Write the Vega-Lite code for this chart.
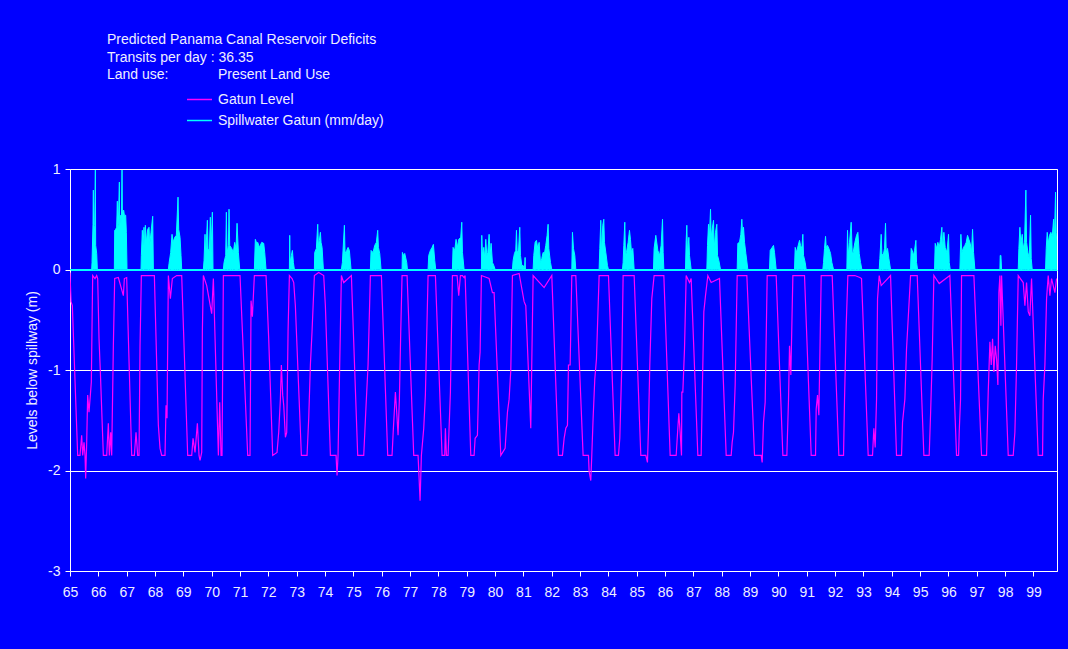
{
"$schema": "https://vega.github.io/schema/vega-lite/v6.json",
"width": 987, "height": 402,
"autosize": "none",
"padding": {"left": 70, "top": 169, "right": 11, "bottom": 78},
"background": "#0000FF",
"title": {
  "text": ["Predicted Panama Canal Reservoir Deficits", "Transits per day :\u00a036.35", "Land use:\u00a0\u00a0\u00a0\u00a0\u00a0\u00a0\u00a0\u00a0\u00a0\u00a0\u00a0\u00a0\u2009Present Land Use"],
  "anchor": "start", "frame": "group", "dx": 37, "offset": 4,
  "font": "Liberation Sans", "fontSize": 14, "fontWeight": "normal", "color": "#EEEEFF", "lineHeight": 17.5
},
"config": {
  "view": {"stroke": "#FFFFFF", "strokeWidth": 1},
  "font": "Liberation Sans",
  "axis": {"labelFont": "Liberation Sans", "labelFontSize": 14, "labelColor": "#EEEEFF", "tickColor": "#FFFFFF", "titleFont": "Liberation Sans", "titleFontSize": 14, "titleFontWeight": "normal", "titleColor": "#EEEEFF"},
  "legend": {"labelFont": "Liberation Sans", "labelFontSize": 14, "labelColor": "#EEEEFF", "labelLimit": 0}
},
"datasets": {
"level": [
{"t":65.0,"v":-0.03},{"t":65.036,"v":-0.32},{"t":65.083,"v":-0.36},{"t":65.271,"v":-1.85},{"t":65.353,"v":-1.85},{"t":65.412,"v":-1.65},{"t":65.448,"v":-1.85},{"t":65.495,"v":-1.72},{"t":65.53,"v":-1.85},{"t":65.553,"v":-2.08},{"t":65.589,"v":-1.72},{"t":65.624,"v":-1.25},{"t":65.671,"v":-1.42},{"t":65.718,"v":-1.25},{"t":65.753,"v":-1.12},{"t":65.8,"v":-0.06},{"t":65.883,"v":-0.09},{"t":65.942,"v":-0.06},{"t":65.977,"v":-0.09},{"t":66.024,"v":-0.69},{"t":66.071,"v":-1.02},{"t":66.177,"v":-1.85},{"t":66.295,"v":-1.85},{"t":66.353,"v":-1.53},{"t":66.389,"v":-1.85},{"t":66.436,"v":-1.62},{"t":66.471,"v":-1.85},{"t":66.53,"v":-0.76},{"t":66.577,"v":-0.09},{"t":66.706,"v":-0.08},{"t":66.883,"v":-0.26},{"t":66.918,"v":-0.09},{"t":67.0,"v":-0.08},
{"t":67.177,"v":-1.85},{"t":67.271,"v":-1.85},{"t":67.33,"v":-1.62},{"t":67.389,"v":-1.85},{"t":67.436,"v":-1.85},{"t":67.471,"v":-0.76},{"t":67.518,"v":-0.06},{"t":67.765,"v":-0.06},{"t":67.977,"v":-0.06},{"t":68.118,"v":-1.55},{"t":68.177,"v":-1.78},{"t":68.236,"v":-1.85},{"t":68.353,"v":-1.85},{"t":68.389,"v":-1.35},{"t":68.424,"v":-1.48},{"t":68.471,"v":-0.06},{"t":68.542,"v":-0.29},{"t":68.612,"v":-0.09},{"t":68.765,"v":-0.06},{"t":68.942,"v":-0.06},{"t":69.153,"v":-1.85},{"t":69.295,"v":-1.85},{"t":69.342,"v":-1.68},{"t":69.412,"v":-1.82},{"t":69.495,"v":-1.53},{"t":69.553,"v":-1.85},{"t":69.589,"v":-1.9},{"t":69.648,"v":-1.82},{"t":69.671,"v":-0.62},{"t":69.706,"v":-0.06},{"t":69.824,"v":-0.16},{"t":69.906,"v":-0.29},{"t":70.0,"v":-0.44},{"t":70.059,"v":-0.09},
{"t":70.236,"v":-1.85},{"t":70.283,"v":-1.32},{"t":70.33,"v":-1.85},{"t":70.365,"v":-1.85},{"t":70.412,"v":-0.06},{"t":70.706,"v":-0.06},{"t":71.0,"v":-0.06},{"t":71.271,"v":-1.85},{"t":71.353,"v":-1.85},{"t":71.389,"v":-0.31},{"t":71.436,"v":-0.47},{"t":71.506,"v":-0.06},{"t":71.836,"v":-0.06},{"t":71.918,"v":-0.06},{"t":72.012,"v":-0.69},{"t":72.153,"v":-1.85},{"t":72.306,"v":-1.82},{"t":72.365,"v":-1.62},{"t":72.424,"v":-1.29},{"t":72.459,"v":-0.95},{"t":72.506,"v":-1.25},{"t":72.542,"v":-1.35},{"t":72.601,"v":-1.67},{"t":72.648,"v":-1.62},{"t":72.695,"v":-0.62},{"t":72.742,"v":-0.06},{"t":72.836,"v":-0.09},{"t":72.895,"v":-0.13},{"t":72.953,"v":-0.36},
{"t":73.165,"v":-1.85},{"t":73.365,"v":-1.85},{"t":73.424,"v":-1.48},{"t":73.483,"v":-0.95},{"t":73.541,"v":-0.62},{"t":73.624,"v":-0.06},{"t":73.777,"v":-0.03},{"t":73.953,"v":-0.06},{"t":74.012,"v":-0.36},{"t":74.189,"v":-1.85},{"t":74.389,"v":-1.85},{"t":74.424,"v":-2.05},{"t":74.459,"v":-1.85},{"t":74.506,"v":-1.12},{"t":74.577,"v":-0.06},{"t":74.659,"v":-0.13},{"t":74.93,"v":-0.06},{"t":75.153,"v":-1.85},{"t":75.365,"v":-1.85},{"t":75.448,"v":-1.35},{"t":75.518,"v":-0.95},{"t":75.6,"v":-0.06},{"t":75.989,"v":-0.06},{"t":76.212,"v":-1.85},{"t":76.365,"v":-1.85},{"t":76.412,"v":-1.58},{"t":76.483,"v":-1.22},{"t":76.542,"v":-1.48},{"t":76.577,"v":-1.65},{"t":76.624,"v":-1.29},{"t":76.671,"v":-0.62},{"t":76.718,"v":-0.06},{"t":76.895,"v":-0.06},
{"t":77.13,"v":-1.85},{"t":77.283,"v":-1.85},{"t":77.354,"v":-2.3},{"t":77.4,"v":-1.85},{"t":77.483,"v":-1.58},{"t":77.541,"v":-1.25},{"t":77.636,"v":-0.06},{"t":77.895,"v":-0.06},{"t":78.13,"v":-1.85},{"t":78.224,"v":-1.85},{"t":78.247,"v":-1.58},{"t":78.283,"v":-1.85},{"t":78.342,"v":-1.85},{"t":78.424,"v":-1.22},{"t":78.495,"v":-0.06},{"t":78.659,"v":-0.06},{"t":78.718,"v":-0.26},{"t":78.777,"v":-0.06},{"t":78.849,"v":-0.06},{"t":78.907,"v":-0.08},{"t":78.943,"v":-0.06},
{"t":79.143,"v":-1.85},{"t":79.26,"v":-1.85},{"t":79.296,"v":-1.68},{"t":79.378,"v":-1.65},{"t":79.437,"v":-0.95},{"t":79.472,"v":-0.82},{"t":79.519,"v":-0.06},{"t":79.79,"v":-0.09},{"t":79.907,"v":-0.23},{"t":79.966,"v":-0.23},{"t":80.202,"v":-1.85},{"t":80.355,"v":-1.78},{"t":80.437,"v":-1.42},{"t":80.496,"v":-1.29},{"t":80.555,"v":-1.0},{"t":80.613,"v":-0.06},{"t":80.849,"v":-0.04},{"t":81.025,"v":-0.32},{"t":81.084,"v":-0.36},{"t":81.26,"v":-1.58},{"t":81.343,"v":-0.06},{"t":81.731,"v":-0.18},{"t":82.002,"v":-0.06},
{"t":82.237,"v":-1.85},{"t":82.378,"v":-1.85},{"t":82.437,"v":-1.68},{"t":82.496,"v":-1.58},{"t":82.555,"v":-1.55},{"t":82.59,"v":-0.95},{"t":82.649,"v":-0.95},{"t":82.708,"v":-0.06},{"t":82.849,"v":-0.06},{"t":83.107,"v":-1.85},{"t":83.296,"v":-1.85},{"t":83.319,"v":-2.01},{"t":83.378,"v":-2.1},{"t":83.413,"v":-1.85},{"t":83.46,"v":-1.48},{"t":83.519,"v":-1.09},{"t":83.578,"v":-0.89},{"t":83.672,"v":-0.06},{"t":84.002,"v":-0.06},{"t":84.237,"v":-1.85},{"t":84.355,"v":-1.85},{"t":84.402,"v":-1.68},{"t":84.472,"v":-0.95},{"t":84.519,"v":-0.06},{"t":84.908,"v":-0.06},
{"t":85.143,"v":-1.85},{"t":85.32,"v":-1.85},{"t":85.378,"v":-1.92},{"t":85.413,"v":-1.58},{"t":85.46,"v":-0.95},{"t":85.531,"v":-0.29},{"t":85.613,"v":-0.06},{"t":85.744,"v":-0.06},{"t":85.92,"v":-0.06},{"t":85.956,"v":-0.06},{"t":86.179,"v":-1.85},{"t":86.391,"v":-1.85},{"t":86.45,"v":-1.58},{"t":86.485,"v":-1.43},{"t":86.532,"v":-1.62},{"t":86.579,"v":-1.85},{"t":86.591,"v":-1.22},{"t":86.626,"v":-1.22},{"t":86.685,"v":-0.79},{"t":86.744,"v":-0.06},{"t":86.861,"v":-0.13},{"t":86.92,"v":-0.09},
{"t":87.156,"v":-1.85},{"t":87.273,"v":-1.85},{"t":87.309,"v":-1.29},{"t":87.367,"v":-0.42},{"t":87.426,"v":-0.26},{"t":87.509,"v":-0.06},{"t":87.626,"v":-0.13},{"t":87.92,"v":-0.09},{"t":88.156,"v":-1.85},{"t":88.332,"v":-1.85},{"t":88.367,"v":-1.72},{"t":88.414,"v":-1.62},{"t":88.473,"v":-1.15},{"t":88.544,"v":-0.06},{"t":88.885,"v":-0.06},{"t":89.156,"v":-1.85},{"t":89.391,"v":-1.85},{"t":89.426,"v":-1.92},{"t":89.473,"v":-1.52},{"t":89.532,"v":-1.32},{"t":89.603,"v":-0.06},{"t":89.92,"v":-0.06},
{"t":90.156,"v":-1.85},{"t":90.297,"v":-1.85},{"t":90.356,"v":-1.29},{"t":90.391,"v":-0.76},{"t":90.438,"v":-1.05},{"t":90.509,"v":-0.06},{"t":90.92,"v":-0.06},{"t":91.156,"v":-1.85},{"t":91.309,"v":-1.85},{"t":91.332,"v":-1.39},{"t":91.379,"v":-1.25},{"t":91.426,"v":-1.45},{"t":91.509,"v":-0.06},{"t":91.897,"v":-0.06},{"t":92.132,"v":-1.85},{"t":92.297,"v":-1.85},{"t":92.332,"v":-1.29},{"t":92.391,"v":-0.56},{"t":92.45,"v":-0.06},{"t":92.697,"v":-0.06},{"t":92.873,"v":-0.08},{"t":92.932,"v":-0.09},
{"t":93.167,"v":-1.85},{"t":93.32,"v":-1.85},{"t":93.367,"v":-1.58},{"t":93.414,"v":-1.77},{"t":93.462,"v":-1.29},{"t":93.497,"v":-0.29},{"t":93.556,"v":-0.06},{"t":93.626,"v":-0.16},{"t":93.956,"v":-0.06},{"t":94.167,"v":-1.85},{"t":94.344,"v":-1.85},{"t":94.379,"v":-1.52},{"t":94.462,"v":-1.29},{"t":94.52,"v":-0.79},{"t":94.579,"v":-0.49},{"t":94.662,"v":-0.06},{"t":94.897,"v":-0.06},{"t":95.132,"v":-1.85},{"t":95.32,"v":-1.85},{"t":95.367,"v":-1.45},{"t":95.426,"v":-0.89},{"t":95.485,"v":-0.06},{"t":95.673,"v":-0.14},{"t":96.05,"v":-0.06},
{"t":96.285,"v":-1.85},{"t":96.356,"v":-1.85},{"t":96.379,"v":-1.62},{"t":96.426,"v":-1.29},{"t":96.462,"v":-0.06},{"t":96.897,"v":-0.06},{"t":97.167,"v":-1.85},{"t":97.344,"v":-1.85},{"t":97.403,"v":-1.22},{"t":97.462,"v":-0.72},{"t":97.509,"v":-0.95},{"t":97.556,"v":-0.69},{"t":97.603,"v":-1.02},{"t":97.65,"v":-0.76},{"t":97.697,"v":-0.89},{"t":97.744,"v":-1.15},{"t":97.779,"v":-0.23},{"t":97.815,"v":-0.06},{"t":97.85,"v":-0.56},{"t":97.874,"v":-0.06},
{"t":98.109,"v":-1.85},{"t":98.285,"v":-1.85},{"t":98.344,"v":-1.62},{"t":98.403,"v":-0.95},{"t":98.462,"v":-0.06},{"t":98.638,"v":-0.13},{"t":98.697,"v":-0.36},{"t":98.756,"v":-0.13},{"t":98.815,"v":-0.42},{"t":98.873,"v":-0.46},{"t":98.932,"v":-0.09},{"t":99.167,"v":-1.85},{"t":99.32,"v":-1.85},{"t":99.344,"v":-1.29},{"t":99.403,"v":-0.95},{"t":99.462,"v":-0.29},{"t":99.52,"v":-0.06},{"t":99.579,"v":-0.26},{"t":99.638,"v":-0.09},{"t":99.756,"v":-0.23},{"t":99.815,"v":-0.09}
],
"spill": [
{"t":65.0,"v":0},{"t":65.765,"v":0},{"t":65.777,"v":0.07},{"t":65.812,"v":0.45},{"t":65.824,"v":0.79},{"t":65.836,"v":0.21},{"t":65.871,"v":0.44},{"t":65.895,"v":0.99},{"t":65.906,"v":0.24},{"t":65.942,"v":0.16},{"t":65.965,"v":0},
{"t":66.565,"v":0},{"t":66.577,"v":0.39},{"t":66.612,"v":0.4},{"t":66.647,"v":0.42},{"t":66.671,"v":0.68},{"t":66.683,"v":0.4},{"t":66.706,"v":0.45},{"t":66.742,"v":0.87},{"t":66.753,"v":0.42},{"t":66.789,"v":0.54},{"t":66.812,"v":0.44},{"t":66.836,"v":0.99},{"t":66.848,"v":0.57},{"t":66.895,"v":0.59},{"t":66.918,"v":0.54},{"t":66.965,"v":0.54},{"t":66.989,"v":0.37},{"t":67.012,"v":0},
{"t":67.506,"v":0},{"t":67.518,"v":0.14},{"t":67.553,"v":0.39},{"t":67.577,"v":0.24},{"t":67.612,"v":0.42},{"t":67.636,"v":0.17},{"t":67.659,"v":0.44},{"t":67.695,"v":0.27},{"t":67.742,"v":0.4},{"t":67.789,"v":0.42},{"t":67.812,"v":0.24},{"t":67.859,"v":0.37},{"t":67.918,"v":0.53},{"t":67.942,"v":0},
{"t":68.471,"v":0},{"t":68.495,"v":0.06},{"t":68.553,"v":0.17},{"t":68.6,"v":0.35},{"t":68.636,"v":0.27},{"t":68.695,"v":0.32},{"t":68.753,"v":0.34},{"t":68.812,"v":0.72},{"t":68.836,"v":0.4},{"t":68.883,"v":0.32},{"t":68.918,"v":0.14},{"t":68.942,"v":0},
{"t":69.706,"v":0},{"t":69.73,"v":0.09},{"t":69.765,"v":0.35},{"t":69.789,"v":0.14},{"t":69.848,"v":0.49},{"t":69.871,"v":0.21},{"t":69.918,"v":0.19},{"t":69.953,"v":0.52},{"t":69.977,"v":0.17},{"t":70.024,"v":0.57},{"t":70.047,"v":0},
{"t":70.412,"v":0},{"t":70.436,"v":0.07},{"t":70.495,"v":0.14},{"t":70.518,"v":0.57},{"t":70.542,"v":0.16},{"t":70.589,"v":0.24},{"t":70.612,"v":0.6},{"t":70.636,"v":0.24},{"t":70.706,"v":0.21},{"t":70.765,"v":0.17},{"t":70.812,"v":0.27},{"t":70.859,"v":0.21},{"t":70.895,"v":0.46},{"t":70.942,"v":0.17},{"t":70.989,"v":0},
{"t":71.506,"v":0},{"t":71.541,"v":0.3},{"t":71.589,"v":0.26},{"t":71.624,"v":0.27},{"t":71.683,"v":0.22},{"t":71.765,"v":0.27},{"t":71.836,"v":0.26},{"t":71.871,"v":0.17},{"t":71.918,"v":0},
{"t":72.742,"v":0},{"t":72.754,"v":0.34},{"t":72.766,"v":0.07},{"t":72.812,"v":0.14},{"t":72.848,"v":0.19},{"t":72.883,"v":0.07},{"t":72.918,"v":0},
{"t":73.624,"v":0},{"t":73.636,"v":0.17},{"t":73.695,"v":0.21},{"t":73.742,"v":0.45},{"t":73.765,"v":0.24},{"t":73.801,"v":0.29},{"t":73.836,"v":0.37},{"t":73.859,"v":0.27},{"t":73.895,"v":0.22},{"t":73.942,"v":0},
{"t":74.577,"v":0},{"t":74.612,"v":0.07},{"t":74.683,"v":0.44},{"t":74.706,"v":0.16},{"t":74.765,"v":0.19},{"t":74.812,"v":0.22},{"t":74.859,"v":0.19},{"t":74.918,"v":0},
{"t":75.6,"v":0},{"t":75.624,"v":0.19},{"t":75.695,"v":0.17},{"t":75.754,"v":0.24},{"t":75.812,"v":0.27},{"t":75.859,"v":0.39},{"t":75.883,"v":0.22},{"t":75.93,"v":0.16},{"t":75.977,"v":0},
{"t":76.718,"v":0},{"t":76.73,"v":0.17},{"t":76.766,"v":0.14},{"t":76.812,"v":0.16},{"t":76.883,"v":0.07},{"t":76.907,"v":0},
{"t":77.636,"v":0},{"t":77.659,"v":0.14},{"t":77.718,"v":0.19},{"t":77.777,"v":0.22},{"t":77.824,"v":0.25},{"t":77.871,"v":0.09},{"t":77.906,"v":0},
{"t":78.495,"v":0},{"t":78.518,"v":0.22},{"t":78.577,"v":0.19},{"t":78.624,"v":0.3},{"t":78.671,"v":0.22},{"t":78.718,"v":0.3},{"t":78.789,"v":0.32},{"t":78.825,"v":0.47},{"t":78.849,"v":0.17},{"t":78.907,"v":0},
{"t":79.519,"v":0},{"t":79.531,"v":0.34},{"t":79.555,"v":0.14},{"t":79.602,"v":0.22},{"t":79.637,"v":0.11},{"t":79.672,"v":0.3},{"t":79.708,"v":0.14},{"t":79.743,"v":0.17},{"t":79.79,"v":0.35},{"t":79.825,"v":0.14},{"t":79.86,"v":0.26},{"t":79.907,"v":0.07},{"t":79.955,"v":0.04},{"t":80.002,"v":0},
{"t":80.613,"v":0},{"t":80.637,"v":0.09},{"t":80.684,"v":0.16},{"t":80.731,"v":0.19},{"t":80.755,"v":0.39},{"t":80.778,"v":0.19},{"t":80.825,"v":0.17},{"t":80.872,"v":0.42},{"t":80.896,"v":0.14},{"t":80.943,"v":0.04},{"t":80.99,"v":0.04},{"t":81.037,"v":0},{"t":81.06,"v":0.12},{"t":81.072,"v":0},
{"t":81.343,"v":0},{"t":81.366,"v":0.14},{"t":81.413,"v":0.27},{"t":81.46,"v":0.29},{"t":81.507,"v":0.21},{"t":81.555,"v":0.27},{"t":81.602,"v":0.07},{"t":81.649,"v":0.11},{"t":81.696,"v":0.17},{"t":81.743,"v":0.16},{"t":81.79,"v":0.24},{"t":81.837,"v":0.34},{"t":81.872,"v":0.45},{"t":81.896,"v":0.21},{"t":81.955,"v":0.07},{"t":82.002,"v":0},
{"t":82.708,"v":0},{"t":82.731,"v":0.37},{"t":82.766,"v":0.21},{"t":82.814,"v":0.14},{"t":82.849,"v":0},
{"t":83.672,"v":0},{"t":83.696,"v":0.21},{"t":83.731,"v":0.49},{"t":83.755,"v":0.17},{"t":83.802,"v":0.44},{"t":83.837,"v":0.5},{"t":83.86,"v":0.27},{"t":83.908,"v":0.17},{"t":83.966,"v":0.04},{"t":84.002,"v":0},
{"t":84.496,"v":0},{"t":84.519,"v":0.07},{"t":84.543,"v":0.24},{"t":84.578,"v":0.47},{"t":84.602,"v":0.14},{"t":84.637,"v":0.17},{"t":84.696,"v":0.27},{"t":84.743,"v":0.39},{"t":84.778,"v":0.3},{"t":84.814,"v":0.17},{"t":84.861,"v":0.21},{"t":84.908,"v":0},
{"t":85.59,"v":0},{"t":85.613,"v":0.21},{"t":85.672,"v":0.34},{"t":85.744,"v":0.19},{"t":85.803,"v":0.14},{"t":85.861,"v":0.24},{"t":85.909,"v":0.5},{"t":85.932,"v":0.17},{"t":85.956,"v":0},
{"t":86.72,"v":0},{"t":86.744,"v":0.29},{"t":86.767,"v":0.44},{"t":86.791,"v":0.14},{"t":86.838,"v":0.32},{"t":86.861,"v":0.14},{"t":86.92,"v":0},
{"t":87.473,"v":0},{"t":87.497,"v":0.24},{"t":87.532,"v":0.45},{"t":87.556,"v":0.27},{"t":87.603,"v":0.6},{"t":87.626,"v":0.32},{"t":87.661,"v":0.4},{"t":87.709,"v":0.49},{"t":87.732,"v":0.21},{"t":87.779,"v":0.37},{"t":87.826,"v":0.45},{"t":87.85,"v":0.14},{"t":87.897,"v":0.09},{"t":87.956,"v":0},
{"t":88.544,"v":0},{"t":88.567,"v":0.26},{"t":88.626,"v":0.27},{"t":88.673,"v":0.35},{"t":88.708,"v":0.5},{"t":88.732,"v":0.37},{"t":88.767,"v":0.42},{"t":88.803,"v":0.27},{"t":88.85,"v":0.16},{"t":88.92,"v":0},
{"t":89.685,"v":0},{"t":89.709,"v":0.19},{"t":89.779,"v":0.22},{"t":89.826,"v":0.24},{"t":89.861,"v":0.17},{"t":89.92,"v":0},
{"t":90.567,"v":0},{"t":90.591,"v":0.22},{"t":90.638,"v":0.17},{"t":90.697,"v":0.24},{"t":90.744,"v":0.29},{"t":90.779,"v":0.24},{"t":90.826,"v":0.21},{"t":90.861,"v":0.35},{"t":90.885,"v":0.14},{"t":90.944,"v":0.07},{"t":90.979,"v":0},
{"t":91.567,"v":0},{"t":91.591,"v":0.07},{"t":91.626,"v":0.21},{"t":91.662,"v":0.33},{"t":91.685,"v":0.22},{"t":91.732,"v":0.24},{"t":91.779,"v":0.21},{"t":91.838,"v":0.16},{"t":91.885,"v":0.07},{"t":91.944,"v":0},
{"t":92.414,"v":0},{"t":92.438,"v":0.39},{"t":92.462,"v":0.14},{"t":92.509,"v":0.27},{"t":92.567,"v":0.47},{"t":92.603,"v":0.17},{"t":92.638,"v":0.17},{"t":92.697,"v":0.27},{"t":92.756,"v":0.34},{"t":92.803,"v":0.37},{"t":92.85,"v":0.16},{"t":92.897,"v":0.07},{"t":92.944,"v":0},
{"t":93.556,"v":0},{"t":93.579,"v":0.11},{"t":93.626,"v":0.35},{"t":93.65,"v":0.16},{"t":93.697,"v":0.14},{"t":93.744,"v":0.21},{"t":93.779,"v":0.46},{"t":93.803,"v":0.17},{"t":93.85,"v":0.21},{"t":93.897,"v":0.11},{"t":93.956,"v":0},
{"t":94.662,"v":0},{"t":94.685,"v":0.21},{"t":94.72,"v":0.19},{"t":94.767,"v":0.14},{"t":94.803,"v":0.19},{"t":94.85,"v":0.29},{"t":94.873,"v":0.07},{"t":94.909,"v":0},
{"t":95.509,"v":0},{"t":95.532,"v":0.26},{"t":95.579,"v":0.21},{"t":95.626,"v":0.27},{"t":95.673,"v":0.22},{"t":95.72,"v":0.3},{"t":95.767,"v":0.42},{"t":95.791,"v":0.21},{"t":95.838,"v":0.37},{"t":95.885,"v":0.22},{"t":95.944,"v":0.17},{"t":96.003,"v":0.35},{"t":96.026,"v":0.07},{"t":96.062,"v":0},
{"t":96.403,"v":0},{"t":96.438,"v":0.35},{"t":96.473,"v":0.17},{"t":96.532,"v":0.22},{"t":96.579,"v":0.24},{"t":96.626,"v":0.27},{"t":96.673,"v":0.34},{"t":96.72,"v":0.3},{"t":96.767,"v":0.26},{"t":96.814,"v":0.17},{"t":96.85,"v":0.4},{"t":96.885,"v":0.17},{"t":96.932,"v":0},
{"t":97.815,"v":0},{"t":97.826,"v":0.14},{"t":97.85,"v":0.14},{"t":97.874,"v":0},
{"t":98.462,"v":0},{"t":98.485,"v":0.21},{"t":98.52,"v":0.42},{"t":98.556,"v":0.26},{"t":98.603,"v":0.35},{"t":98.638,"v":0.21},{"t":98.685,"v":0.27},{"t":98.732,"v":0.79},{"t":98.756,"v":0.27},{"t":98.803,"v":0.17},{"t":98.85,"v":0.11},{"t":98.897,"v":0.54},{"t":98.92,"v":0.11},{"t":98.956,"v":0},
{"t":99.426,"v":0},{"t":99.45,"v":0.21},{"t":99.485,"v":0.37},{"t":99.52,"v":0.26},{"t":99.567,"v":0.34},{"t":99.615,"v":0.37},{"t":99.662,"v":0.32},{"t":99.709,"v":0.5},{"t":99.732,"v":0.22},{"t":99.779,"v":0.77},{"t":99.803,"v":0.37},{"t":99.826,"v":0.24}
]
},
"encoding": {
  "x": {"field": "t", "type": "quantitative", "scale": {"domain": [65, 99.83], "nice": false, "zero": false},
        "axis": {"values": [65,66,67,68,69,70,71,72,73,74,75,76,77,78,79,80,81,82,83,84,85,86,87,88,89,90,91,92,93,94,95,96,97,98,99], "format": "d", "grid": false, "domain": false, "tickSize": 5, "labelPadding": 9, "title": null, "labelFlush": false, "labelOverlap": false}},
  "y": {"field": "v", "type": "quantitative", "scale": {"domain": [-3, 1], "nice": false, "zero": false},
        "axis": {"values": [-3,-2,-1,0,1], "labelExpr": "'' + datum.value", "grid": true, "gridColor": {"condition": {"test": "datum.value === 0", "value": "#00FFFF"}, "value": "#FFFFFF"}, "gridOpacity": 1, "domain": false, "tickSize": 5, "labelPadding": 5, "title": "Levels below spillway (m)", "titlePadding": 8}}
},
"layer": [
  {"data": {"name": "level"}, "mark": {"type": "line", "strokeWidth": 1.2, "clip": true},
   "encoding": {"color": {"datum": "Gatun Level", "type": "nominal",
      "scale": {"domain": ["Gatun Level", "Spillwater Gatun (mm/day)"], "range": ["#FF00FF", "#00FFFF"]},
      "legend": {"title": null, "orient": "none", "legendX": 116, "legendY": -83, "symbolType": "stroke", "symbolSize": 625, "symbolStrokeWidth": 1.5, "rowPadding": -4, "padding": 0, "labelOffset": 5, "labelLimit": 0}}}},
  {"data": {"name": "spill"}, "mark": {"type": "area", "fill": "#00FFFF", "stroke": "#00FFFF", "strokeWidth": 1, "clip": true}}
]
}
